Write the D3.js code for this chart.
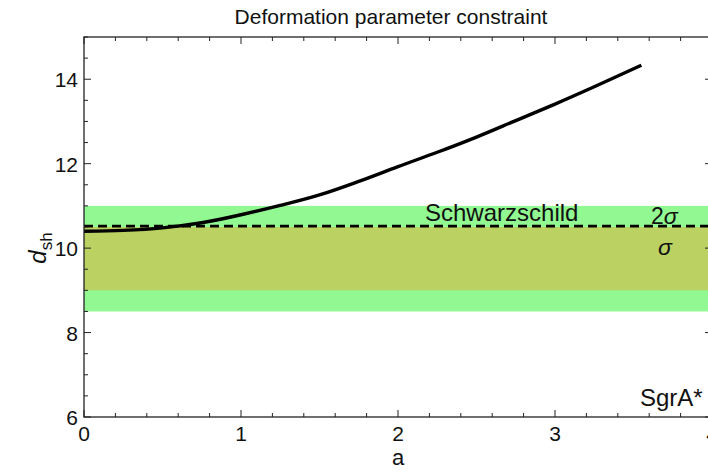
<!DOCTYPE html>
<html><head><meta charset="utf-8">
<script src="https://cdn.jsdelivr.net/npm/d3@7"></script>
<style>body{margin:0;background:#fff}svg{display:block}text{font-family:"Liberation Sans",Arial,sans-serif;fill:#111}</style>
</head><body>
<svg id="c" width="708" height="472"></svg>
<script>
const aValues = [0, 0.25, 0.5, 0.75, 1.0, 1.25, 1.5, 1.75, 2.0, 2.25, 2.5, 2.75, 3.0, 3.25, 3.55];
const dshValues = [10.40, 10.42, 10.48, 10.60, 10.79, 11.01, 11.26, 11.58, 11.93, 12.27, 12.63, 13.02, 13.41, 13.82, 14.33];
const schwarzschild = 10.52;
const band2Sigma = [8.5, 11.0];
const band1Sigma = [9.0, 10.5];
const xTicks = [0, 1, 2, 3, 4];
const yTicks = [6, 8, 10, 12, 14];

const svg = d3.select("#c");
const L = 84, R = 712, T = 37, B = 417;
const x = d3.scaleLinear().domain([0, 4]).range([L, R]);
const y = d3.scaleLinear().domain([6, 15]).range([B, T]);

svg.append("defs").append("clipPath").attr("id","cp").append("rect")
  .attr("x", L).attr("y", T).attr("width", R - L).attr("height", B - T);
const g = svg.append("g").attr("clip-path","url(#cp)");

g.append("rect").attr("x", x(0)).attr("width", x(4) - x(0))
  .attr("y", y(band2Sigma[1])).attr("height", y(band2Sigma[0]) - y(band2Sigma[1]))
  .attr("fill", "#92f992");
g.append("rect").attr("x", x(0)).attr("width", x(4) - x(0))
  .attr("y", y(band1Sigma[1])).attr("height", y(band1Sigma[0]) - y(band1Sigma[1]))
  .attr("fill", "#bbd263");

g.append("line").attr("x1", x(0)).attr("x2", x(4))
  .attr("y1", y(schwarzschild)).attr("y2", y(schwarzschild))
  .attr("stroke", "#000").attr("stroke-width", 2.6).attr("stroke-dasharray", "9,5");

const line = d3.line().x((d,i) => x(aValues[i])).y(d => y(d)).curve(d3.curveMonotoneX);
g.append("path").datum(dshValues).attr("d", line)
  .attr("fill","none").attr("stroke","#000").attr("stroke-width",3.4);

const ax = svg.append("g");
ax.append("rect").attr("x", L).attr("y", T).attr("width", R - L).attr("height", B - T)
  .attr("fill","none").attr("stroke","#222").attr("stroke-width",1.3);

d3.range(0, 4.001, 0.2).forEach(v => {
  const major = Math.abs(v - Math.round(v)) < 1e-6;
  const len = major ? 7 : 4;
  ax.append("line").attr("x1", x(v)).attr("x2", x(v)).attr("y1", B).attr("y2", B - len).attr("stroke","#222");
  ax.append("line").attr("x1", x(v)).attr("x2", x(v)).attr("y1", T).attr("y2", T + len).attr("stroke","#222");
});
d3.range(6, 15.001, 0.5).forEach(v => {
  const major = Math.abs(v/2 - Math.round(v/2)) < 1e-6;
  const len = major ? 7 : 4;
  ax.append("line").attr("x1", L).attr("x2", L + len).attr("y1", y(v)).attr("y2", y(v)).attr("stroke","#222");
  ax.append("line").attr("x1", R).attr("x2", R - len).attr("y1", y(v)).attr("y2", y(v)).attr("stroke","#222");
});

xTicks.forEach(v => {
  ax.append("text").attr("x", x(v)).attr("y", 441).attr("text-anchor","middle")
    .attr("font-size", 21).text(v);
});
yTicks.forEach(v => {
  ax.append("text").attr("x", 78).attr("y", y(v) + 8).attr("text-anchor","end")
    .attr("font-size", 21).text(v);
});

svg.append("text").attr("x", 391).attr("y", 24).attr("text-anchor","middle")
  .attr("font-size", 21).text("Deformation parameter constraint");
svg.append("text").attr("x", 398).attr("y", 465).attr("text-anchor","middle")
  .attr("font-size", 22).text("a");
const yl = svg.append("text").attr("transform","translate(46,248) rotate(-90)")
  .attr("text-anchor","middle").attr("font-size", 24);
yl.append("tspan").attr("font-style","italic").text("d");
yl.append("tspan").attr("font-size", 17).attr("dy", 6).text("sh");

svg.append("text").attr("x", 425).attr("y", 221).attr("font-size", 24).text("Schwarzschild");
const t2 = svg.append("text").attr("x", 651).attr("y", 224).attr("font-size", 23);
t2.append("tspan").text("2");
t2.append("tspan").attr("font-style","italic").text("σ");
svg.append("text").attr("x", 658).attr("y", 255).attr("font-size", 23).attr("font-style","italic").text("σ");
svg.append("text").attr("x", 640).attr("y", 406).attr("font-size", 24).text("SgrA*");
</script>
</body></html>
